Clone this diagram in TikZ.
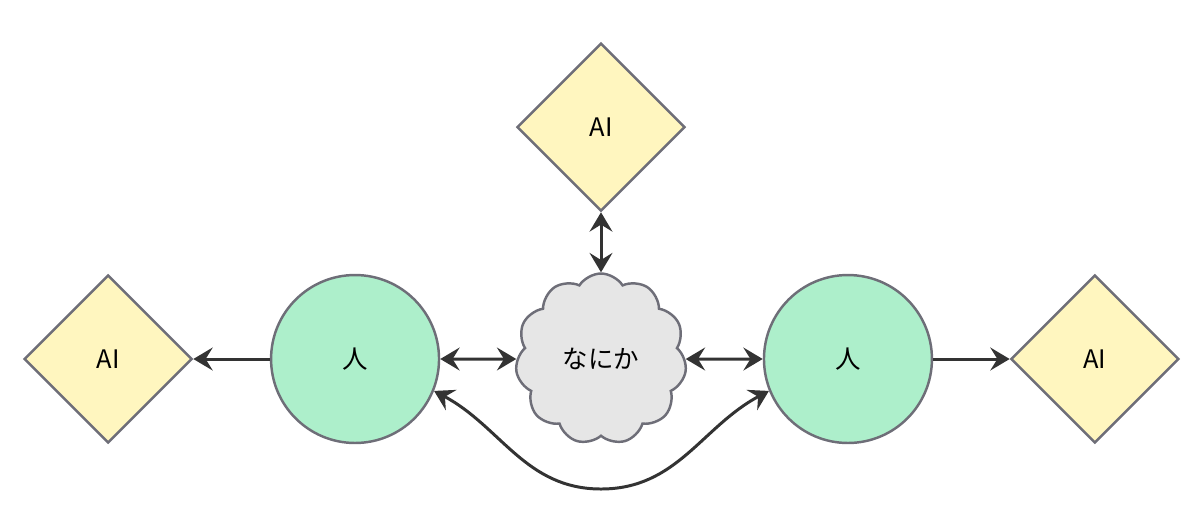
\documentclass[tikz,border=0pt]{standalone}
\usepackage{fontspec}
\setmainfont{Noto Sans CJK JP}
\usetikzlibrary{positioning,shapes.geometric,shapes.symbols,arrows.meta}

\definecolor{aiyellow}{HTML}{FFF6BF}
\definecolor{humangreen}{HTML}{ADEFCB}
\definecolor{cloudgray}{HTML}{E6E6E6}
\definecolor{edgegray}{HTML}{6E6E78}
\definecolor{arrowdark}{HTML}{333333}

\begin{document}
\begin{tikzpicture}[x=0.02cm,y=-0.02cm,on grid,
  >={Stealth[length=11pt,width=13pt,inset=4pt]},
  font=\fontsize{14.5}{17}\selectfont,
  ai node/.style={diamond,aspect=1,draw=edgegray,fill=aiyellow,
    line width=1.4pt,minimum size=3.36cm,inner sep=0pt},
  human node/.style={circle,draw=edgegray,fill=humangreen,
    line width=1.4pt,minimum size=3.36cm,inner sep=0pt},
  thing node/.style={cloud,cloud puffs=11,cloud puff arc=115,aspect=1,
    draw=edgegray,fill=cloudgray,line width=1.4pt,
    minimum width=3.42cm,minimum height=3.42cm,inner sep=0pt},
  link/.style={arrowdark,line width=1.7pt}]

  \useasboundingbox (0,0) rectangle (1200,522);

  \node[thing node] (c) at (601,359) {なにか};
  \node[human node] (lh) [left=4.92cm of c] {人};
  \node[human node] (rh) [right=4.94cm of c] {人};
  \node[ai node] (la) [left=4.94cm of lh] {AI};
  \node[ai node] (ra) [right=4.94cm of rh] {AI};
  \node[ai node] (ta) [above=4.64cm of c] {AI};
  \coordinate (dip) at (601,489);

  \draw[link,->] (lh) -- (la);
  \draw[link,->] (rh) -- (ra);
  \draw[link,<->] (lh) -- (c);
  \draw[link,<->] (c) -- (rh);
  \draw[link,<->] (c) -- (ta);
  \draw[link,<->] (lh.-22) to[out=-28,in=180] (dip) to[out=0,in=-152] (rh.-158);
\end{tikzpicture}
\end{document}
